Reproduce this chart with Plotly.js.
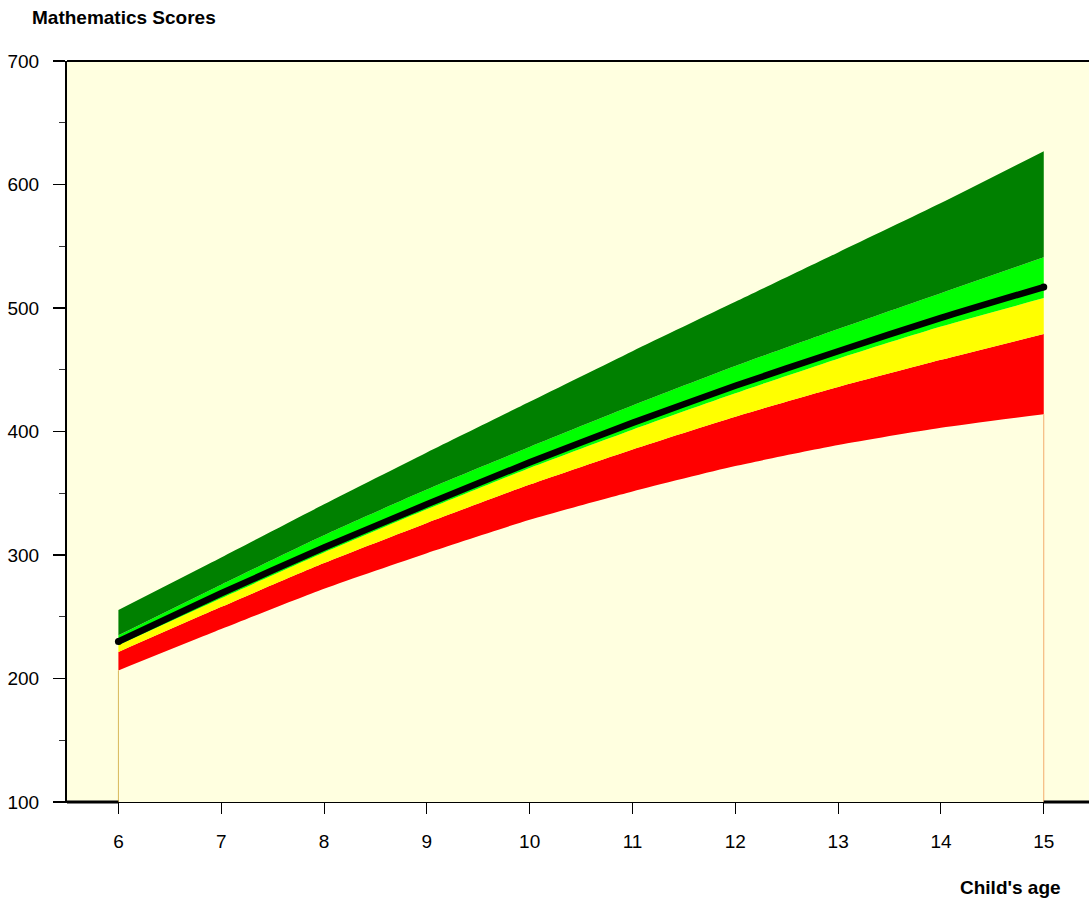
<!DOCTYPE html>
<html>
<head>
<meta charset="utf-8">
<script src="https://cdn.plot.ly/plotly-3.0.1.min.js"></script>
<style>html,body{margin:0;padding:0;background:#fff;}#chart{width:1089px;height:899px;}</style>
</head>
<body>
<div id="chart"></div>
<script>
// Child's age (years)
const ages = [6, 7, 8, 9, 10, 11, 12, 13, 14, 15];
// Band boundaries (score)
const redLow         = [206.5, 240, 272.7, 301.5, 328.5, 351.5, 372, 389, 403, 414];
const redHigh        = [221.5, 258, 293.5, 326, 357, 385.5, 412, 436, 458, 479];
const yellowHigh     = [227, 265, 302, 337, 370.5, 401.5, 431, 459, 485, 508];
const median         = [230, 269, 306, 341, 375, 407, 437, 465, 492, 517];
const lightGreenHigh = [235, 276, 316, 353, 387.5, 421, 453, 483, 512, 541];
const darkGreenHigh  = [255.5, 298, 341, 383, 424, 465, 505, 545, 585, 627];
const yTicks = [100, 200, 300, 400, 500, 600, 700];
const yRange = [100, 700];
const xRange = [5.5, 15.44];

const FONT = 'Liberation Sans, Arial, Helvetica, sans-serif';

function band(y, color) {
  return {x: ages, y: y, type: 'scatter', mode: 'lines', fill: 'tonexty',
    fillcolor: color, line: {width: 0, shape: 'spline', smoothing: 0.6},
    hoverinfo: 'skip', showlegend: false};
}

const last = ages.length - 1;
const traces = [
  {x: ages, y: redLow, type: 'scatter', mode: 'lines',
   line: {width: 0, shape: 'spline', smoothing: 0.6}, hoverinfo: 'skip', showlegend: false},
  band(redHigh, '#ff0000'),
  band(yellowHigh, '#ffff00'),
  band(lightGreenHigh, '#00ff00'),
  band(darkGreenHigh, '#008000'),
  // thin edge lines below the lowest band
  {x: [ages[0], ages[0]], y: [yRange[0], redLow[0]], type: 'scatter', mode: 'lines',
   line: {width: 1, color: '#d8b85a'}, hoverinfo: 'skip', showlegend: false},
  {x: [ages[last], ages[last]], y: [yRange[0], redLow[last]], type: 'scatter', mode: 'lines',
   line: {width: 1, color: '#f3ad6c'}, hoverinfo: 'skip', showlegend: false},
  // median line
  {x: ages, y: median, type: 'scatter', mode: 'lines',
   line: {width: 6.5, color: '#000000', shape: 'spline', smoothing: 0.6},
   hoverinfo: 'skip', showlegend: false},
  {x: [ages[0], ages[last]], y: [median[0], median[last]], type: 'scatter', mode: 'markers',
   marker: {size: 7, color: '#000000'}, hoverinfo: 'skip', showlegend: false}
];

const layout = {
  width: 1089, height: 899,
  margin: {l: 67, r: 0, t: 61, b: 97, pad: 0},
  paper_bgcolor: '#ffffff',
  plot_bgcolor: '#ffffe0',
  font: {family: FONT, size: 19, color: '#000'},
  showlegend: false,
  title: {text: '<b>Mathematics Scores</b>', xref: 'container', yref: 'container',
    x: 32 / 1089, xanchor: 'left', y: 1 - 17 / 899, yanchor: 'middle',
    font: {family: FONT, size: 19, color: '#000'}},
  xaxis: {range: xRange, tickvals: ages, ticktext: ages.map(String),
    showgrid: false, zeroline: false, showline: true, linecolor: '#000', linewidth: 1,
    ticks: 'outside', ticklen: 11, tickwidth: 1, tickcolor: '#000',
    ticklabelstandoff: 11, tickfont: {family: FONT, size: 19, color: '#000'}},
  yaxis: {range: yRange, tickvals: yTicks, ticktext: yTicks.map(String),
    showgrid: false, zeroline: false, showline: true, linecolor: '#000', linewidth: 2,
    ticks: 'outside', ticklen: 12, tickwidth: 1.5, tickcolor: '#000',
    ticklabelstandoff: 10, tickfont: {family: FONT, size: 19, color: '#000'},
    minor: {dtick: 50, tick0: 50, ticks: 'outside', ticklen: 6, tickwidth: 1, tickcolor: '#333', showgrid: false}},
  shapes: [
    {type: 'line', xref: 'paper', yref: 'paper', x0: 0, x1: 1, y0: 1, y1: 1,
     line: {color: '#000', width: 2}},
    {type: 'line', xref: 'x', yref: 'paper', x0: xRange[0], x1: ages[0], y0: 0, y1: 0,
     line: {color: '#000', width: 3}},
    {type: 'line', xref: 'x', yref: 'paper', x0: ages[last], x1: xRange[1], y0: 0, y1: 0,
     line: {color: '#000', width: 3}}
  ],
  annotations: [
    {text: "<b>Child's age</b>", xref: 'paper', yref: 'paper',
     x: (1063 - 67) / 1022, xanchor: 'right', y: -(887.5 - 802) / 741, yanchor: 'middle',
     showarrow: false, font: {family: FONT, size: 19, color: '#000'}}
  ]
};

Plotly.newPlot('chart', traces, layout, {staticPlot: true, displayModeBar: false});
</script>
</body>
</html>
